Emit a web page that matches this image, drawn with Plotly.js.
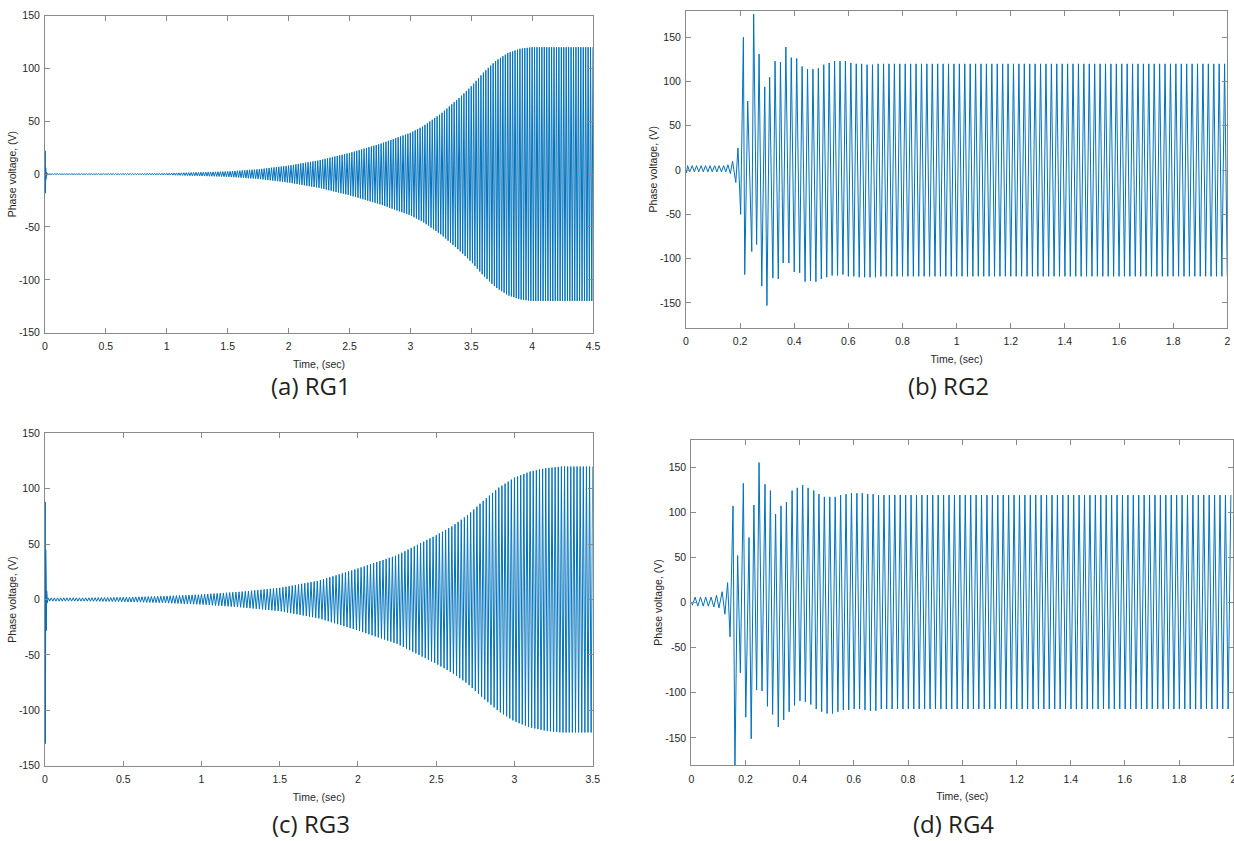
<!DOCTYPE html>
<html>
<head>
<meta charset="utf-8">
<script src="https://cdn.plot.ly/plotly-3.0.1.min.js"></script>
<style>
html,body{margin:0;padding:0;background:#fff;}
#chart{width:1234px;height:841px;}
</style>
</head>
<body>
<div id="chart"></div>
<script>
// ---------------- data ----------------
const freqHz = 50;

// (a) RG1 : start-up spike, then growing envelope (amplitude, V)
const aSpikeT = [0, 0.002, 0.004, 0.006, 0.008, 0.010, 0.013, 0.016];
const aSpikeV = [0, 22, -18, 6, -5, 2, -2, 1];
const aEnvT = [0.02, 0.5, 1.0, 1.5, 1.75, 2.0, 2.25, 2.5, 2.75, 3.0, 3.1, 3.25, 3.4, 3.5, 3.6, 3.7, 3.8, 3.9, 4.0, 4.5];
const aEnvA = [0.2, 0.4, 0.8, 2.5, 4.5, 8, 13, 20, 28.5, 39, 45, 57, 72, 83, 96, 107, 114.5, 118.5, 120, 120];

// (b) RG2 : individual peaks / troughs of the transient
const bT = [0, 0.002, 0.006, 0.014, 0.023, 0.031, 0.039, 0.047, 0.056, 0.064,
            0.072, 0.081, 0.089, 0.097, 0.106, 0.114, 0.122, 0.131, 0.139, 0.147,
            0.155, 0.164, 0.172, 0.184, 0.192, 0.202, 0.212, 0.217, 0.228, 0.243,
            0.250, 0.261, 0.270, 0.280, 0.291, 0.299, 0.309, 0.321, 0.329, 0.341,
            0.349, 0.359, 0.369, 0.380, 0.389, 0.400, 0.409, 0.420, 0.429, 0.440,
            0.449, 0.460, 0.469, 0.480, 0.489, 0.500, 0.509, 0.520, 0.529, 0.540,
            0.549, 0.560, 0.569, 0.580, 0.589, 0.600, 0.609, 0.620, 0.629, 0.640,
            0.649, 0.660, 0.669, 0.680, 0.689, 0.700];
const bV = [0, -3, 5, -2, 5, -2, 5, -2, 5, -2,
            5, -2, 5, -2, 5, -2, 5, -2, 5, -2,
            6, -4, 10, -14, 25, -50, 150, -118, 78, -92,
            176, -84, 131, -131, 94, -153, 105, -122, 123, -123,
            122, -105, 139, -105, 127, -115, 126, -116, 117, -126,
            114, -125, 114, -126, 115, -123, 119, -121, 121, -119,
            123, -119, 123, -118, 123, -120, 121, -120, 120, -121,
            120, -121, 119, -121, 119, -121];
const bSteadyHi = 120, bSteadyLo = -120, bEnd = 2.0;

// (c) RG3
const cSpikeT = [0, 0.0015, 0.003, 0.0045, 0.006, 0.0075, 0.009, 0.0105, 0.012, 0.0135, 0.015];
const cSpikeV = [0, 88, -130, 45, -60, 20, -28, 8, -10, 3, -3];
const cEnvT = [0.02, 0.25, 0.5, 0.75, 1.0, 1.25, 1.5, 1.75, 2.0, 2.25, 2.5, 2.6, 2.7, 2.8, 2.9, 3.0, 3.1, 3.2, 3.3, 3.5];
const cEnvA = [1.5, 1.5, 2, 3, 4.5, 7, 10.5, 17, 28, 40, 58, 66, 76, 89, 101, 110, 115.5, 118.5, 120, 120];

// (d) RG4
const dT = [0, 0.004, 0.014, 0.024, 0.034, 0.044, 0.053, 0.063, 0.073, 0.083,
            0.093, 0.102, 0.114, 0.124, 0.134, 0.143, 0.154, 0.161, 0.171, 0.181,
            0.192, 0.201, 0.213, 0.221, 0.231, 0.241, 0.250, 0.261, 0.272, 0.281,
            0.292, 0.300, 0.311, 0.321, 0.331, 0.341, 0.351, 0.361, 0.372, 0.381,
            0.391, 0.401, 0.411, 0.421, 0.431, 0.441, 0.452, 0.461, 0.471, 0.481,
            0.491, 0.501, 0.511, 0.521, 0.531, 0.541, 0.551, 0.561, 0.571, 0.581,
            0.591, 0.601, 0.611, 0.621, 0.631, 0.641, 0.651, 0.661, 0.671, 0.681,
            0.691];
const dV = [0, -3, 6, -4, 6, -4, 6, -4, 6, -5,
            8, -6, 12, -13, 22, -38, 107, -185, 52, -78,
            132, -127, 72, -151, 108, -97, 155, -98, 131, -115,
            124, -124, 98, -138, 107, -130, 111, -121, 124, -114,
            127, -109, 130, -110, 127, -113, 124, -118, 120, -121,
            117, -123, 117, -123, 117, -121, 119, -119, 120, -119,
            121, -118, 121, -118, 121, -119, 120, -120, 120, -120,
            119];
const dSteadyHi = 119, dSteadyLo = -118, dEnd = 2.0;

// tick labels
const tickV = [-150, -100, -50, 0, 50, 100, 150];
const tickVText = ['-150', '-100', '-50', '0', '50', '100', '150'];
const tickA = [0, 0.5, 1, 1.5, 2, 2.5, 3, 3.5, 4, 4.5];
const tickAText = ['0', '0.5', '1', '1.5', '2', '2.5', '3', '3.5', '4', '4.5'];
const tickC = [0, 0.5, 1, 1.5, 2, 2.5, 3, 3.5];
const tickCText = ['0', '0.5', '1', '1.5', '2', '2.5', '3', '3.5'];
const tickB = [0, 0.2, 0.4, 0.6, 0.8, 1, 1.2, 1.4, 1.6, 1.8, 2];
const tickBText = ['0', '0.2', '0.4', '0.6', '0.8', '1', '1.2', '1.4', '1.6', '1.8', '2'];
const captions = ['(a) RG1', '(b) RG2', '(c) RG3', '(d) RG4'];

// ---------------- build traces ----------------
const half = 1 / (2 * freqHz);
function interp(xs, ys, x) {
  if (x <= xs[0]) return ys[0];
  for (let i = 1; i < xs.length; i++) {
    if (x <= xs[i]) {
      const f = (x - xs[i - 1]) / (xs[i] - xs[i - 1]);
      return ys[i - 1] + f * (ys[i] - ys[i - 1]);
    }
  }
  return ys[ys.length - 1];
}
function envelopeWave(spT, spV, envT, envA) {
  const x = spT.slice(), y = spV.slice();
  const tEnd = envT[envT.length - 1];
  let k = 0;
  for (let t = envT[0]; t <= tEnd + 1e-9; t = envT[0] + (++k) * half) {
    const A = interp(envT, envA, t);
    x.push(t); y.push(k % 2 === 0 ? A : -A);
  }
  return {x, y};
}
function steadyWave(tt, vv, hi, lo, tEnd) {
  const x = tt.slice(), y = vv.slice();
  let up = vv[vv.length - 1] < 0;
  let k = 1;
  const t0 = tt[tt.length - 1];
  for (let t = t0 + half; t <= tEnd + 1e-9; t = t0 + (++k) * half) {
    x.push(t); y.push(up ? hi : lo); up = !up;
  }
  return {x, y};
}
const wa = envelopeWave(aSpikeT, aSpikeV, aEnvT, aEnvA);
const wb = steadyWave(bT, bV, bSteadyHi, bSteadyLo, bEnd);
const wc = envelopeWave(cSpikeT, cSpikeV, cEnvT, cEnvA);
const wd = steadyWave(dT, dV, dSteadyHi, dSteadyLo, dEnd);

const lineStyle = {color: '#0072BD', width: 1};
const traces = [
  {x: wa.x, y: wa.y, xaxis: 'x', yaxis: 'y', type: 'scatter', mode: 'lines', line: lineStyle, hoverinfo: 'skip'},
  {x: wb.x, y: wb.y, xaxis: 'x2', yaxis: 'y2', type: 'scatter', mode: 'lines', line: lineStyle, hoverinfo: 'skip'},
  {x: wc.x, y: wc.y, xaxis: 'x3', yaxis: 'y3', type: 'scatter', mode: 'lines', line: lineStyle, hoverinfo: 'skip'},
  {x: wd.x, y: wd.y, xaxis: 'x4', yaxis: 'y4', type: 'scatter', mode: 'lines', line: lineStyle, hoverinfo: 'skip'}
];

// ---------------- layout ----------------
const W = 1234, H = 841;
const px = v => v / W, py = v => 1 - v / H;
const axFont = {family: '"Liberation Sans", Arial, sans-serif', size: 10.5, color: '#262626'};
const capFont = {family: '"Open Sans", "Noto Sans", sans-serif', size: 24, color: '#231f20'};
function ax(extra) {
  return Object.assign({
    showline: true, linecolor: '#8a8a8a', linewidth: 1, mirror: 'ticks',
    ticks: 'inside', ticklen: 5, tickwidth: 1, tickcolor: '#8a8a8a',
    showgrid: false, zeroline: false, tickfont: axFont, fixedrange: true,
    ticklabeloverflow: 'allow'
  }, extra);
}
function xTitle() { return {text: 'Time, (sec)', font: axFont, standoff: 9}; }
function yTitle() { return {text: 'Phase voltage, (V)', font: axFont, standoff: 0}; }

function cap(i, x, y) {
  return {text: captions[i], x: px(x), y: py(y), xref: 'paper', yref: 'paper', showarrow: false,
          xanchor: 'center', yanchor: 'middle', font: capFont};
}

const layout = {
  width: W, height: H, showlegend: false,
  margin: {l: 0, r: 0, t: 0, b: 0},
  paper_bgcolor: '#ffffff', plot_bgcolor: '#ffffff',
  xaxis:  ax({domain: [px(45), px(593)], range: [0, 4.5], anchor: 'y', tickvals: tickA, ticktext: tickAText, title: xTitle(), ticklabelstandoff: 4}),
  yaxis:  ax({domain: [py(332.7), py(15.5)], range: [-150, 150], anchor: 'x', tickvals: tickV, ticktext: tickVText, title: yTitle(), ticklabelstandoff: 2}),
  xaxis2: ax({domain: [px(686), px(1227.3)], range: [0, 2], anchor: 'y2', tickvals: tickB, ticktext: tickBText, title: xTitle(), ticklabelstandoff: 4}),
  yaxis2: ax({domain: [py(327.7), py(10.7)], range: [-178, 180], anchor: 'x2', tickvals: tickV, ticktext: tickVText, title: yTitle(), ticklabelstandoff: 2}),
  xaxis3: ax({domain: [px(45), px(592.7)], range: [0, 3.5], anchor: 'y3', tickvals: tickC, ticktext: tickCText, title: xTitle(), ticklabelstandoff: 4}),
  yaxis3: ax({domain: [py(765.7), py(433.3)], range: [-150, 150], anchor: 'x3', tickvals: tickV, ticktext: tickVText, title: yTitle(), ticklabelstandoff: 2}),
  xaxis4: ax({domain: [px(691.3), px(1233.3)], range: [0, 2], anchor: 'y4', tickvals: tickB, ticktext: tickBText, title: xTitle(), ticklabelstandoff: 4}),
  yaxis4: ax({domain: [py(765), py(440)], range: [-180, 180], anchor: 'x4', tickvals: tickV, ticktext: tickVText, title: yTitle(), ticklabelstandoff: 2}),
  annotations: [cap(0, 311, 386), cap(1, 948, 386), cap(2, 311, 823), cap(3, 953, 823)]
};

Plotly.newPlot('chart', traces, layout, {staticPlot: true, displayModeBar: false});
</script>
</body>
</html>
